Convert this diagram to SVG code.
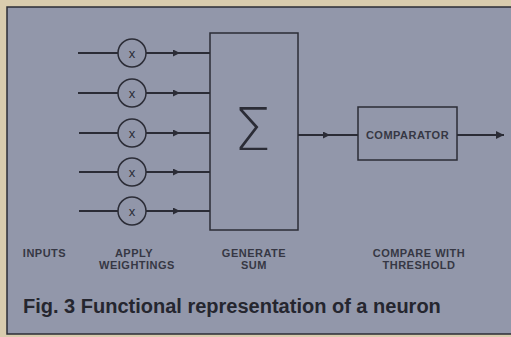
<svg xmlns="http://www.w3.org/2000/svg" width="511" height="337" viewBox="0 0 511 337">
  <defs>
    <marker id="ah" viewBox="0 0 10 10" refX="10" refY="5" markerWidth="10" markerHeight="7" markerUnits="userSpaceOnUse" orient="auto">
      <path d="M0,0 L10,5 L0,10 z" fill="#2b2c36"/>
    </marker>
    <marker id="ahEnd" viewBox="0 0 10 10" refX="10" refY="5" markerWidth="12" markerHeight="8" markerUnits="userSpaceOnUse" orient="auto">
      <path d="M0,0 L10,5 L0,10 z" fill="#2b2c36"/>
    </marker>
    <style>
      .ln { stroke: #2b2c36; stroke-width: 1.8; fill: none; }
      .box { stroke: #2b2c36; stroke-width: 1.5; fill: none; }
      .circ { stroke: #2b2c36; stroke-width: 1.5; fill: #9196a9; }
      .x { font-family: "Liberation Sans", Arial, sans-serif; font-size: 13px; fill: #2b2c36; text-anchor: middle; }
      .lbl { font-family: "Liberation Sans", Arial, sans-serif; font-size: 11px; font-weight: bold; fill: #363744; letter-spacing: 0.5px; text-anchor: middle; }
      .cap { font-family: "Liberation Sans", Arial, sans-serif; font-size: 20px; font-weight: bold; fill: #25262f; }
    </style>
  </defs>

  <rect x="0" y="0" width="511" height="337" fill="#d9ccae"/>
  <rect x="7" y="7" width="510" height="327" fill="#9297aa" stroke="#2b2c36" stroke-width="1.5"/>

  <g id="connectors">
    <line class="ln" x1="78" y1="53" x2="118" y2="53"/>
    <line class="ln" x1="78" y1="93" x2="118" y2="93"/>
    <line class="ln" x1="79" y1="133" x2="118" y2="133"/>
    <line class="ln" x1="79" y1="172" x2="118" y2="172"/>
    <line class="ln" x1="79" y1="211" x2="118" y2="211"/>
    <path class="ln" d="M146,53 L180,53 L210,53" marker-mid="url(#ah)"/>
    <path class="ln" d="M146,93 L180,93 L210,93" marker-mid="url(#ah)"/>
    <path class="ln" d="M146,133 L180,133 L210,133" marker-mid="url(#ah)"/>
    <path class="ln" d="M146,172 L180,172 L210,172" marker-mid="url(#ah)"/>
    <path class="ln" d="M146,211 L180,211 L210,211" marker-mid="url(#ah)"/>
    <path class="ln" d="M298,135 L330,135 L358,135" marker-mid="url(#ah)"/>
    <line class="ln" x1="457" y1="135" x2="504" y2="135" marker-end="url(#ahEnd)"/>
  </g>

  <g id="mult1"><circle class="circ" cx="132" cy="53" r="14"/><text class="x" x="132" y="57.5">x</text></g>
  <g id="mult2"><circle class="circ" cx="132" cy="93" r="14"/><text class="x" x="132" y="97.5">x</text></g>
  <g id="mult3"><circle class="circ" cx="132" cy="133" r="14"/><text class="x" x="132" y="137.5">x</text></g>
  <g id="mult4"><circle class="circ" cx="132" cy="172" r="14"/><text class="x" x="132" y="176.5">x</text></g>
  <g id="mult5"><circle class="circ" cx="132" cy="211" r="14"/><text class="x" x="132" y="215.5">x</text></g>

  <g id="sum">
    <rect class="box" x="210" y="33" width="88" height="197"/>
    <text x="252.5" y="150" font-family="DejaVu Sans ExtraLight, DejaVu Sans, sans-serif" font-weight="200" font-size="59" fill="#2b2c36" text-anchor="middle">Σ</text>
  </g>

  <g id="comparator">
    <rect class="box" x="358" y="107" width="99" height="53"/>
    <text class="lbl" x="407.5" y="139" style="letter-spacing:0.5px">COMPARATOR</text>
  </g>

  <g id="labels">
    <text class="lbl" x="44.5" y="257">INPUTS</text>
    <text class="lbl" x="134" y="257">APPLY</text>
    <text class="lbl" x="137" y="269">WEIGHTINGS</text>
    <text class="lbl" x="254" y="257">GENERATE</text>
    <text class="lbl" x="254" y="269">SUM</text>
    <text class="lbl" x="419" y="257">COMPARE WITH</text>
    <text class="lbl" x="419" y="269">THRESHOLD</text>
  </g>

  <text class="cap" x="23" y="313">Fig. 3 Functional representation of a neuron</text>
</svg>
